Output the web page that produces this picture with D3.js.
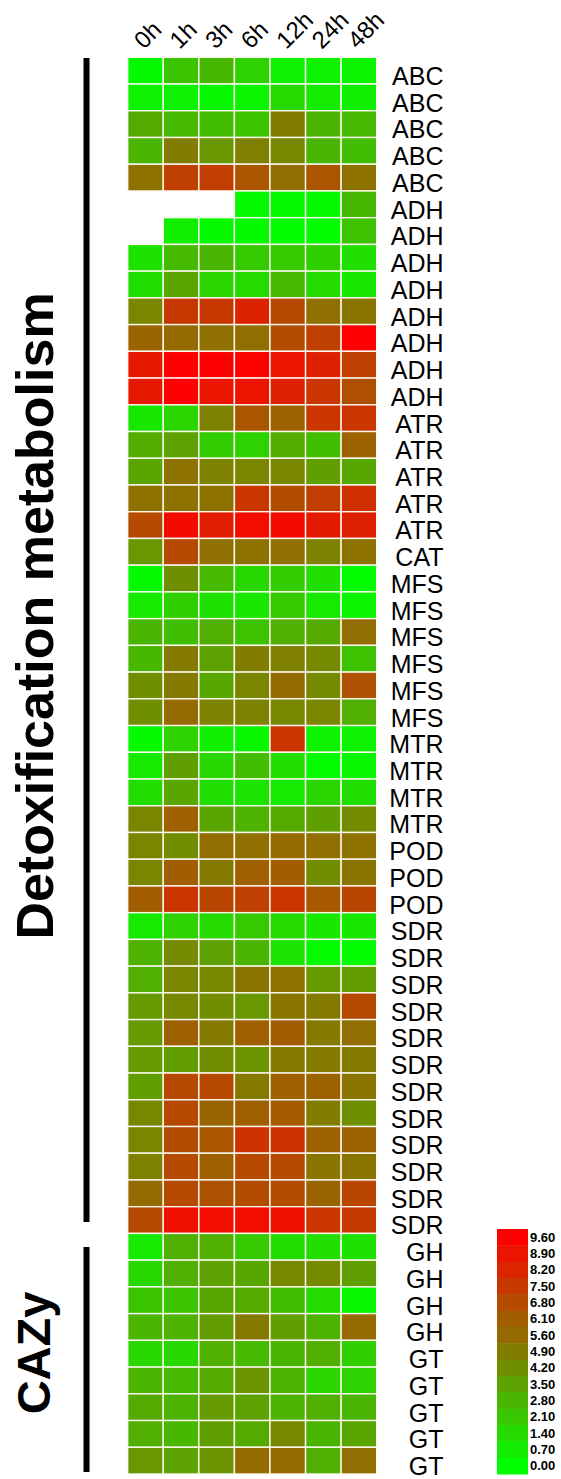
<!DOCTYPE html>
<html><head><meta charset="utf-8">
<script src="https://cdn.jsdelivr.net/npm/d3@7"></script>
<style>html,body{margin:0;padding:0;background:#fff}svg{display:block}</style>
</head><body>
<svg id="c" width="561" height="1479"></svg>
<script>
const timepoints = ["0h","1h","3h","6h","12h","24h","48h"];
const geneLabels = ["ABC","ABC","ABC","ABC","ABC",
 "ADH","ADH","ADH","ADH","ADH","ADH","ADH","ADH",
 "ATR","ATR","ATR","ATR","ATR","CAT",
 "MFS","MFS","MFS","MFS","MFS","MFS",
 "MTR","MTR","MTR","MTR","POD","POD","POD",
 "SDR","SDR","SDR","SDR","SDR","SDR","SDR","SDR","SDR","SDR","SDR","SDR",
 "GH","GH","GH","GH","GT","GT","GT","GT","GT"];
const expression = [
 [0.2,2.2,2.7,1.7,0.5,0.5,0.4],
 [0.5,0.5,0.3,0.4,1.4,0.8,0.6],
 [3.2,2.6,2.5,2.2,4.9,2.8,2.6],
 [2.8,4.9,3.9,4.8,4.5,2.8,2.5],
 [5.3,7.2,7.3,6.4,5.5,6.4,5.3],
 [null,null,null,0.2,0.2,0.2,2.7],
 [null,0.6,0.2,0.2,0.1,0.1,2.3],
 [1.1,2.6,2.8,2.0,2.0,1.8,1.2],
 [1.2,3.4,1.6,1.4,2.6,1.4,0.9],
 [4.6,7.5,7.5,8.3,6.8,5.4,5.2],
 [5.8,5.6,5.4,5.5,6.7,7.2,9.6],
 [8.7,9.6,9.6,9.5,8.9,8.4,7.2],
 [8.7,9.6,8.9,8.9,8.4,7.6,6.6],
 [0.9,1.6,4.7,6.4,5.9,7.6,7.6],
 [3.1,3.5,1.9,1.7,3.1,2.5,5.9],
 [3.4,5.3,4.7,4.6,4.6,3.6,3.3],
 [5.3,5.3,5.3,7.6,6.7,7.3,7.8],
 [6.8,9.2,8.5,9.1,9.2,8.6,8.4],
 [3.9,6.8,5.4,5.3,5.4,4.7,5.3],
 [0.2,4.2,2.6,1.5,1.9,1.2,0.1],
 [0.8,1.8,1.1,0.9,2.0,0.8,0.4],
 [2.8,2.4,3.0,2.3,3.0,3.2,5.5],
 [2.7,5.0,3.5,4.9,4.8,4.4,2.3],
 [4.2,5.0,3.3,4.6,5.6,4.4,6.5],
 [4.2,5.6,4.7,4.7,4.5,4.6,3.0],
 [0.2,1.7,0.6,0.3,7.6,0.5,0.5],
 [0.8,3.6,1.5,2.5,1.3,0.1,0.3],
 [1.3,3.4,1.2,1.0,0.8,1.6,1.2],
 [4.6,6.0,3.4,2.9,3.2,3.6,4.4],
 [4.6,4.3,5.5,5.4,5.6,5.4,5.3],
 [4.6,6.1,5.0,6.0,6.1,4.3,5.2],
 [6.1,7.6,7.0,7.2,7.6,6.3,7.0],
 [0.8,1.7,1.4,2.0,1.4,0.9,0.9],
 [2.9,4.4,3.5,2.8,1.0,0.1,0.1],
 [3.0,4.6,4.5,5.2,5.3,3.8,3.7],
 [3.8,4.5,4.3,3.9,5.2,5.0,6.8],
 [3.8,6.0,5.0,6.0,6.1,5.0,5.5],
 [3.8,3.7,4.3,4.0,5.0,5.0,5.0],
 [3.6,6.9,6.9,5.0,6.0,5.9,5.2],
 [4.5,6.9,5.8,6.0,6.2,4.9,4.2],
 [4.6,6.7,6.4,7.7,7.7,5.9,5.9],
 [4.7,6.8,6.0,6.8,6.8,5.2,5.2],
 [5.6,6.8,6.5,6.7,6.7,5.8,7.0],
 [6.8,9.0,9.1,9.1,9.0,7.6,7.4],
 [0.8,3.0,3.0,2.0,1.3,1.3,1.1],
 [1.5,3.0,3.5,3.3,4.5,4.4,3.6],
 [2.2,2.2,3.3,3.2,2.5,1.4,0.3],
 [2.8,2.9,3.7,5.0,3.6,2.9,5.6],
 [1.5,1.5,3.0,2.6,2.8,3.0,1.8],
 [2.8,2.6,3.2,4.0,2.9,1.6,1.7],
 [3.2,2.9,3.8,3.5,2.9,3.0,2.8],
 [3.0,2.7,3.6,3.2,4.5,2.8,3.4],
 [3.9,3.5,4.0,5.6,5.6,3.0,5.5]
];
const legendTicks = ["9.60","8.90","8.20","7.50","6.80","6.10","5.60","4.90","4.20","3.50","2.80","2.10","1.40","0.70","0.00"];
const groupNames = ["Detoxification metabolism","CAZy"];

const svg = d3.select("#c");
const FONT = "'Liberation Sans', Arial, sans-serif";

const x = d3.scaleBand().domain(d3.range(timepoints.length)).range([127.7, 376.7]);
const y = d3.scaleBand().domain(d3.range(geneLabels.length)).range([57.3, 1474]);
const color = d3.scaleLinear().domain([0, 9.6]).range(["#00ff00", "#ff0000"]).interpolate(d3.interpolateRgb).clamp(true);

// cells
const cells = [];
expression.forEach((row, r) => row.forEach((v, c) => { if (v !== null) cells.push({r, c, v}); }));
svg.append("g").selectAll("rect").data(cells).join("rect")
  .attr("x", d => x(d.c)).attr("y", d => y(d.r))
  .attr("width", x.bandwidth()).attr("height", y.bandwidth())
  .attr("fill", d => color(d.v))
  .attr("stroke", "#fbf8ef").attr("stroke-width", 1.4);

// column labels
svg.append("g").selectAll("text").data(timepoints).join("text")
  .attr("transform", (d, i) => `translate(${x(i) + x.bandwidth()/2 - 1.5},50) rotate(-45)`)
  .attr("font-family", FONT).attr("font-size", 24).attr("fill", "#000")
  .text(d => d);

// row labels
svg.append("g").selectAll("text").data(geneLabels).join("text")
  .attr("x", 443.5).attr("y", (d, i) => y(i) + y.bandwidth() + 1)
  .attr("text-anchor", "end")
  .attr("font-family", FONT).attr("font-size", 25).attr("fill", "#000")
  .text(d => d);

// group bars and titles
const barY = [[58, 1222], [1247, 1472]];
const titleY = [616, 1353];
const titleSize = [52, 47];
groupNames.forEach((g, i) => {
  svg.append("line").attr("x1", 86.5).attr("x2", 86.5)
    .attr("y1", barY[i][0]).attr("y2", barY[i][1])
    .attr("stroke", "#000").attr("stroke-width", 6);
  svg.append("text")
    .attr("transform", `translate(${i === 0 ? 53 : 50},${titleY[i]}) rotate(-90)`)
    .attr("text-anchor", "middle").attr("font-family", FONT)
    .attr("font-weight", "bold").attr("font-size", titleSize[i]).attr("fill", "#000")
    .text(g);
});

// legend
const lg = svg.append("g");
const ly = d3.scaleBand().domain(d3.range(legendTicks.length)).range([1229, 1474]);
lg.selectAll("rect").data(legendTicks).join("rect")
  .attr("x", 497).attr("y", (d, i) => ly(i)).attr("width", 31).attr("height", ly.bandwidth() + 0.5)
  .attr("fill", d => color(+d));
lg.selectAll("text").data(legendTicks).join("text")
  .attr("x", 530).attr("y", (d, i) => ly(i) + ly.bandwidth()/2 + 4.5)
  .attr("font-family", FONT).attr("font-weight", "bold").attr("font-size", 13).attr("fill", "#000")
  .text(d => d);
</script>
</body></html>
